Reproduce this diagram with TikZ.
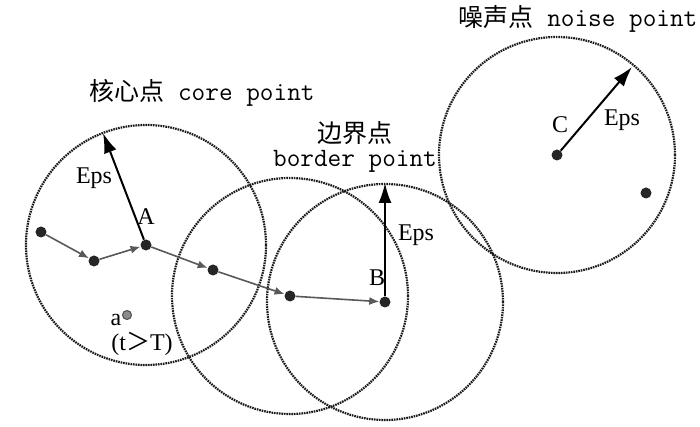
\documentclass[tikz,border=0pt]{standalone}
\usepackage{fontspec}
\setmainfont{Liberation Serif}
\newfontfamily\cjk{Noto Sans CJK SC}
\usetikzlibrary{arrows.meta}
\begin{document}
\begin{tikzpicture}[x=1pt,y=1pt,
  pt/.style={circle,fill=black!85,inner sep=0pt,minimum size=11pt},
  ptgray/.style={circle,fill=black!45,draw=black!70,line width=1pt,inner sep=0pt,minimum size=9pt},
  eps/.style={circle,draw=black!90,line width=2.2pt,dash pattern=on 1.6pt off 0.9pt},
  link/.style={draw=black!65,line width=1.6pt,-{Latex[length=10pt,width=8pt]}},
  epsarrow/.style={draw=black,line width=2pt,-{Latex[length=20pt,width=13pt]}},
  lbl/.style={inner sep=0pt,font=\fontsize{24}{26}\selectfont},
  title/.style={inner sep=0pt,font=\fontsize{25}{27}\selectfont},
  mono/.style={font=\fontsize{26.5}{28}\selectfont\ttfamily}]
\useasboundingbox (0,0) rectangle (700,427);
% points
\node[pt] (p1) at (41,195) {};
\node[pt] (p2) at (94,166) {};
\node[pt] (A) at (146,182) {};
\node[pt] (p3) at (213,157) {};
\node[pt] (p4) at (290,131) {};
\node[pt] (B) at (385,125) {};
\node[pt] (C) at (557,272) {};
\node[pt] (n) at (646,234) {};
\node[ptgray] (a) at (127,112) {};
% Eps circles
\draw[eps] (A) circle (120);
\draw[eps] (p4) circle (118);
\draw[eps] (B) circle (118);
\draw[eps] (C) circle (118);
% path of density-reachable points
\draw[link] (p1) -- (p2);
\draw[link] (p2) -- (A);
\draw[link] (A) -- (p3);
\draw[link] (p3) -- (p4);
\draw[link] (p4) -- (B);
% Eps radius arrows
\coordinate (tA) at (103,294);
\coordinate (tB) at (385,244);
\coordinate (tC) at (632,360);
\draw[epsarrow] (A) -- (tA);
\draw[epsarrow] (B) -- (tB);
\draw[epsarrow] (C) -- (tC);
% labels
\node[lbl] (epsA) at (94,249) {Eps};
\node[lbl] (labA) at (146,210) {A};
\node[lbl] (labB) at (377,149) {B};
\node[lbl] (epsB) at (416,192) {Eps};
\node[lbl] (labC) at (560,302) {C};
\node[lbl] (epsC) at (622,307) {Eps};
\node[lbl] (laba) at (116,107) {a};
\node[lbl] (labt) at (142,83) {(t{\cjk ＞}T)};
\node[title] (core) at (202,334) {{\cjk 核心点}{\fontsize{26.5}{28}\selectfont\ttfamily{} core point}};
\node[title] (border1) at (355,294) {\cjk 边界点};
\node[title,mono] (border2) at (355,266) {border point};
\node[title] (noise) at (578,408) {{\cjk 噪声点}{\fontsize{26.5}{28}\selectfont\ttfamily{} noise point}};
\end{tikzpicture}
\end{document}
